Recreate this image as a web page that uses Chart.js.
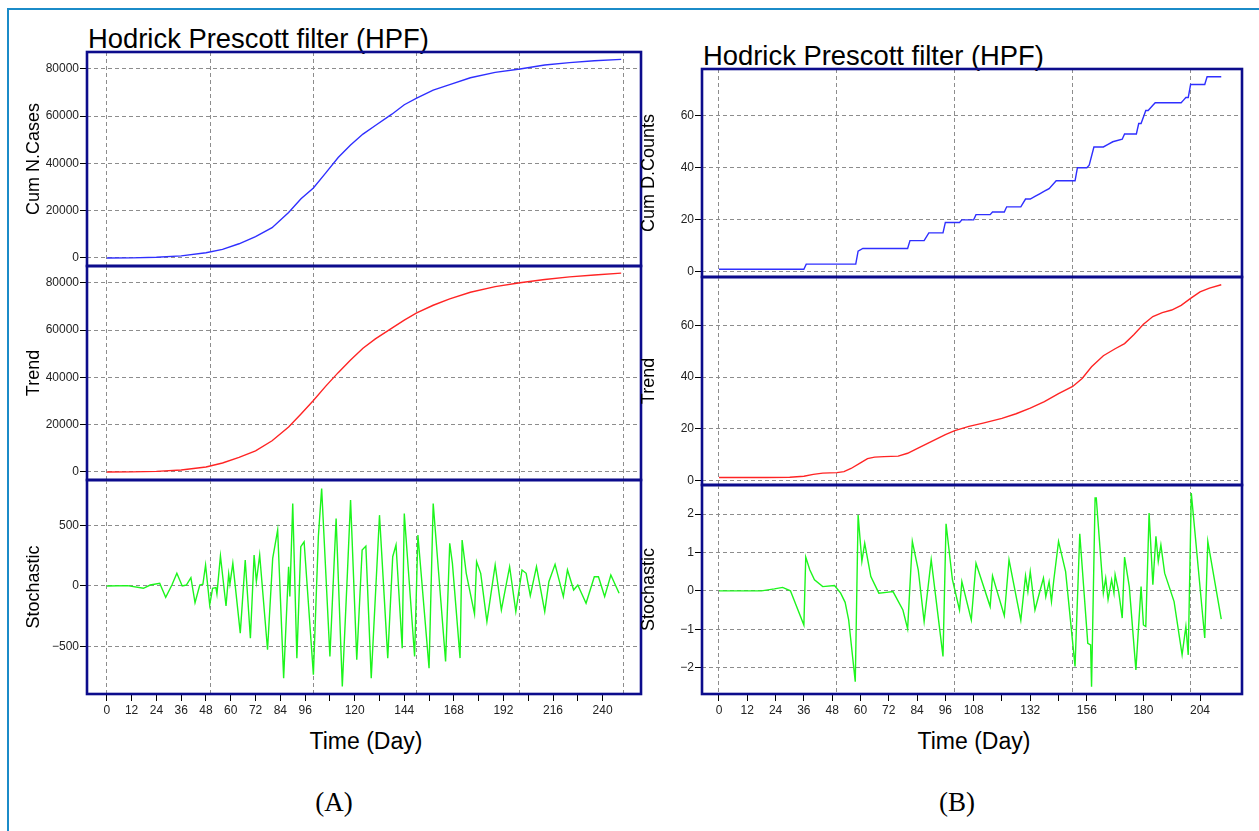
<!DOCTYPE html>
<html>
<head>
<meta charset="utf-8">
<script src="https://cdn.jsdelivr.net/npm/chart.js@4.4.0/dist/chart.umd.min.js"></script>
<style>
  body { margin: 0; background: #fff; width: 1259px; height: 831px; overflow: hidden; position: relative; font-family: "Liberation Sans", Arial, sans-serif; }
  #frame { position: absolute; left: 7px; top: 8px; width: 1300px; height: 900px; border-left: 2px solid #1b8bc8; border-top: 2px solid #1b8bc8; }
  canvas { position: absolute; }
  .txt { position: absolute; white-space: nowrap; line-height: 1; color: #000; }
  .ttl { font-size: 27.4px; }
  .xt { font-size: 23px; transform: translateX(-50%); }
  .pl { font-family: "Liberation Serif", "Times New Roman", serif; font-size: 27px; transform: translateX(-50%); }
</style>
</head>
<body>
<div id="frame"></div>
<div class="txt ttl" style="left:88px;top:25px">Hodrick Prescott filter (HPF)</div>
<div class="txt ttl" style="left:703px;top:42px">Hodrick Prescott filter (HPF)</div>
<div class="txt xt" style="left:366px;top:730px">Time (Day)</div>
<div class="txt xt" style="left:974px;top:730px">Time (Day)</div>
<div class="txt pl" style="left:334px;top:789px">(A)</div>
<div class="txt pl" style="left:957px;top:789px">(B)</div>

<canvas id="a1"></canvas><canvas id="a2"></canvas><canvas id="a3"></canvas>
<canvas id="b1"></canvas><canvas id="b2"></canvas><canvas id="b3"></canvas>

<script>
// ---- tick labels ----
const aXTicks = [0,12,24,36,48,60,72,84,96,108,120,132,144,156,168,180,192,204,216,228,240];
const aXLabels = [0,12,24,36,48,60,72,84,96,120,144,168,192,216,240];
const bXTicks = [0,12,24,36,48,60,72,84,96,108,120,132,144,156,168,180,192,204];
const bXLabels = [0,12,24,36,48,60,72,84,96,108,132,156,180,204];
const aGridX = [0,50,100,150,200,250];
const bGridX = [0,50,100,150,200];
const casesTicks = [0,20000,40000,60000,80000];
const aStochTicks = [-500,0,500];
const countsTicks = [0,20,40,60];
const bStochTicks = [-2,-1,0,1,2];

// ---- (A) cumulative new cases ----
const casesDays = [0,12,24,36,48,56,64,72,80,88,94,100,106,112,118,124,130,138,144,150,158,166,176,188,200,212,224,236,249];
const casesVals = [0,50,300,900,2200,3600,6000,9000,12800,19200,25000,29600,36000,42500,47800,52400,56000,60800,64800,67600,71000,73300,76200,78500,79900,81600,82600,83400,84000];

// ---- (A) trend ----
const trendADays = [0,12,24,36,48,56,64,72,80,88,94,100,106,112,118,124,130,138,144,150,158,166,176,188,200,212,224,236,249];
const trendAVals = [0,50,250,800,2100,3800,6200,8900,13200,19000,24500,30200,36300,42000,47300,52300,56300,60800,64200,67300,70500,73200,76000,78400,80000,81400,82500,83300,84100];

// ---- (A) stochastic ----
const stochADays = [0,10,17.7,21,25.6,28.5,31.5,33.9,36.5,38.5,
  40.7,42.7,45,46.5,47.8,49.8,51.2,52.8,53.3,55,
  57.7,59,59.6,61,64.6,67,69.5,71.3,72.4,74,
  77.8,80.3,82.7,85.6,88,88.6,90,92,93.9,95.5,
  100,102.4,104,108,111,114,116.5,118,121,123.6,
  125.4,128,132,136,138.4,140,143,144,149,150.6,
  156,158,164,166,167.3,171,172,174,178,179,
  181,184,188,191,195,198,201,203,205,208,
  212,214,217,221,223,226,228,232,236,238,
  241,244,248];
const stochAVals = [0,3,-19,8,22,-94,8,105,0,8,
  69,-138,8,14,174,-157,-19,-14,-66,249,
  -166,99,17,188,-392,215,-434,257,36,257,
  -530,229,464,-765,160,-88,685,-600,326,367,
  -737,409,809,-585,561,-834,119,713,-613,298,
  331,-765,588,-599,243,340,-516,602,-585,423,
  -682,685,-627,354,188,-599,381,105,-232,202,
  105,-296,174,-199,160,-213,133,105,-80,160,
  -213,36,180,-88,133,-33,8,-144,77,77,
  -88,91,-61];

// ---- (B) cumulative death counts ----
const countsDays = [0,36,37,58,59,61,80,81,87,89,
  95,96,102,103,108,109,115,116,121,122,
  128,130,132,134,136,138,140,143,151,152,
  156,157,159,163,165,167,171,172,177,178,
  179,181,182,184,185,196,197,198,199,200,
  206,207,213];
const countsVals = [1,1,3,3,8,9,9,12,12,15,
  15,19,19,20,20,22,22,23,23,25,
  25,28,28,29,30,31,32,35,35,40,
  40,41,48,48,49,50,51,53,53,57,
  57,62,62,64,65,65,66,67,67,72,
  72,75,75];

// ---- (B) trend ----
const trendBDays = [0,20,30,36,40,44,50,53,56,60,
  63,66,70,76,80,84,90,96,100,106,
  112,120,126,132,138,144,150,154,158,163,
  168,172,176,180,184,188,192,196,200,204,
  208,213];
const trendBVals = [1.1,1.1,1.2,1.6,2.3,2.8,3.0,3.4,4.6,6.8,
  8.4,9.0,9.2,9.4,10.5,12.3,15.0,17.7,19.3,20.9,
  22.2,24.0,25.8,28.0,30.5,33.6,36.4,39.5,44.0,48.3,
  51.0,53.0,56.5,60.5,63.5,65.0,66.0,67.8,70.5,73.0,
  74.5,75.8];

// ---- (B) stochastic ----
const stochBDays = [0,18,23.5,27,30.3,36,36.8,38.5,40.5,44,
  49,51.6,53.5,55,57.8,59,60.6,61.8,64.4,67.8,
  71,73.8,78,80,82,84.5,87,90,95,96.3,
  99,102,103,107,109,115,116,121,123,128,
  130,131,132,134,136,137.6,138.6,140,141,142,
  144,147,151,153,156.4,157.6,158,159.5,160,163,
  164,165,166.5,167.5,168,169.5,171,172,174,176.8,
  179,180,181,182.4,184,185.3,186.3,187.4,189,193,
  196.4,198,199,200.3,206,207.3,213];
const stochBVals = [0,0,0.05,0.09,0,-0.89,0.88,0.55,0.29,0.11,
  0.14,-0.06,-0.3,-0.76,-2.37,1.98,0.77,1.24,0.37,-0.06,
  -0.04,-0.02,-0.5,-0.99,1.29,0.55,-0.8,0.81,-1.71,1.75,
  0.29,-0.5,0.24,-0.76,0.72,-0.41,0.39,-0.65,0.81,-0.77,
  0.39,-0.02,0.5,-0.5,-0.03,0.33,-0.15,0.24,-0.28,0.29,
  1.29,0.5,-1.97,1.49,-1.37,-1.41,-2.5,2.42,2.42,-0.06,
  0.33,-0.23,0.29,-0.06,0.42,-0.02,-0.71,0.88,0.11,-2.06,
  0.11,-0.89,-0.93,2.03,0.16,1.42,0.77,1.2,0.46,-0.28,
  -1.67,-0.93,-1.67,2.55,-1.23,1.29,-0.74];

const AXW = 68, PAD = 6, XH = 30;
const NAVY = '#0c0c8c', GRID = '#8d8d8d';

const pts = (xs, ys) => xs.map((x, i) => ({ x: x, y: ys[i] }));
const fmt = v => String(v).replace('-', '\u2212');

const boxPlugin = {
  id: 'box',
  afterDatasetsDraw(c) {
    const { ctx, chartArea: a } = c;
    ctx.save();
    ctx.strokeStyle = NAVY;
    ctx.lineWidth = 2.6;
    ctx.strokeRect(a.left, a.top, a.right - a.left, a.bottom - a.top);
    ctx.restore();
  }
};

function makeChart(id, box, o) {
  const cv = document.getElementById(id);
  const w = box.r - box.l + AXW + PAD;
  const h = box.b - box.t + PAD + (o.bottom ? XH : PAD);
  cv.width = w; cv.height = h;
  cv.style.left = (box.l - AXW) + 'px';
  cv.style.top = (box.t - PAD) + 'px';

  new Chart(cv, {
    type: 'line',
    data: { datasets: [{
      data: o.data, borderColor: o.color, borderWidth: 1.4,
      pointRadius: 0, tension: 0, fill: false
    }] },
    options: {
      responsive: false, animation: false, devicePixelRatio: 1,
      layout: { padding: { left: 0, top: PAD, right: PAD, bottom: o.bottom ? 0 : PAD } },
      plugins: { legend: { display: false }, tooltip: { enabled: false } },
      scales: {
        x: {
          type: 'linear', min: o.xmin, max: o.xmax, display: o.bottom,
          afterBuildTicks: s => { s.ticks = o.xTicks.map(v => ({ value: v })); },
          afterFit: s => { s.height = o.bottom ? XH : 0; s.paddingLeft = 0; s.paddingRight = 0; },
          grid: { drawOnChartArea: false, drawTicks: true, tickLength: 7, tickColor: '#000', tickWidth: 1 },
          border: { display: false },
          ticks: {
            autoSkip: false, maxRotation: 0, padding: 2, color: '#222',
            font: { size: 12, family: 'Liberation Sans' },
            callback: v => o.xLabels.includes(v) ? String(v) : ''
          }
        },
        xg: {
          type: 'linear', position: 'bottom', min: o.xmin, max: o.xmax,
          afterBuildTicks: s => { s.ticks = o.gridX.map(v => ({ value: v })); },
          afterFit: s => { s.height = 0; s.paddingLeft = 0; s.paddingRight = 0; },
          grid: { color: GRID, lineWidth: 1, drawTicks: false },
          border: { display: false, dash: [4, 3] },
          ticks: { display: false }
        },
        y: {
          type: 'linear', min: o.ymin, max: o.ymax,
          afterBuildTicks: s => { s.ticks = o.yTicks.map(v => ({ value: v })); },
          afterFit: s => { s.width = AXW; s.paddingTop = 0; s.paddingBottom = 0; },
          grid: { color: GRID, lineWidth: 1, drawTicks: true, tickLength: 7, tickColor: '#000', tickWidth: 1 },
          border: { display: false, dash: [4, 3] },
          ticks: {
            autoSkip: false, padding: 1, color: '#222',
            font: { size: 12, family: 'Liberation Sans' },
            callback: v => fmt(v)
          },
          title: {
            display: true, text: o.ytitle, color: '#000',
            font: { size: 18, family: 'Liberation Sans' },
            padding: { top: 4, bottom: 0 }
          }
        }
      }
    },
    plugins: [boxPlugin]
  });
}

const A = { xmin: -9.6, xmax: 258.6, xTicks: aXTicks, xLabels: aXLabels, gridX: aGridX };
const B = { xmin: -7.2, xmax: 221.8, xTicks: bXTicks, xLabels: bXLabels, gridX: bGridX };

makeChart('a1', { l: 87, t: 52, r: 641, b: 266 }, Object.assign({}, A, {
  data: pts(casesDays, casesVals), color: '#2f2fff', ymin: -3400, ymax: 87100,
  yTicks: casesTicks, ytitle: 'Cum N.Cases', bottom: false }));
makeChart('a2', { l: 87, t: 266, r: 641, b: 480 }, Object.assign({}, A, {
  data: pts(trendADays, trendAVals), color: '#ff2424', ymin: -3400, ymax: 87100,
  yTicks: casesTicks, ytitle: 'Trend', bottom: false }));
makeChart('a3', { l: 87, t: 480, r: 641, b: 694 }, Object.assign({}, A, {
  data: pts(stochADays, stochAVals), color: '#1cf51c', ymin: -897, ymax: 880,
  yTicks: aStochTicks, ytitle: 'Stochastic', bottom: true }));

makeChart('b1', { l: 702, t: 69, r: 1242, b: 277 }, Object.assign({}, B, {
  data: pts(countsDays, countsVals), color: '#2f2fff', ymin: -1.96, ymax: 77.96,
  yTicks: countsTicks, ytitle: 'Cum D.Counts', bottom: false }));
makeChart('b2', { l: 702, t: 277, r: 1242, b: 485 }, Object.assign({}, B, {
  data: pts(trendBDays, trendBVals), color: '#ff2424', ymin: -1.8, ymax: 78.8,
  yTicks: countsTicks, ytitle: 'Trend', bottom: false }));
makeChart('b3', { l: 702, t: 485, r: 1242, b: 694 }, Object.assign({}, B, {
  data: pts(stochBDays, stochBVals), color: '#1cf51c', ymin: -2.69, ymax: 2.76,
  yTicks: bStochTicks, ytitle: 'Stochastic', bottom: true }));
</script>
</body>
</html>
